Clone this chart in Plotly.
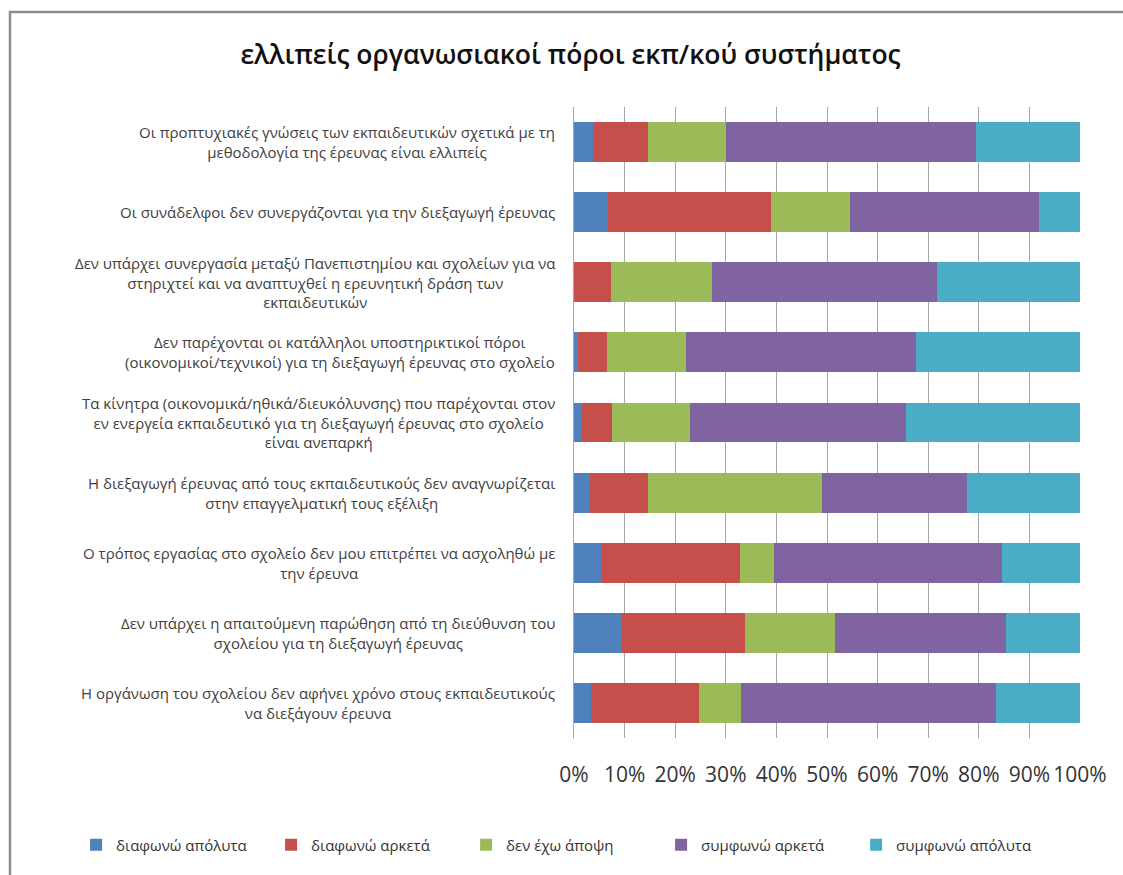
import plotly.graph_objects as go

# Survey statements (top to bottom)
statements = [
    "Οι προπτυχιακές γνώσεις των εκπαιδευτικών σχετικά με τη<br>μεθοδολογία της έρευνας είναι ελλιπείς",
    "Οι συνάδελφοι δεν συνεργάζονται για την διεξαγωγή έρευνας",
    "Δεν υπάρχει συνεργασία μεταξύ Πανεπιστημίου και σχολείων για να<br>στηριχτεί και να αναπτυχθεί η ερευνητική δράση των<br>εκπαιδευτικών",
    "Δεν παρέχονται οι κατάλληλοι υποστηρικτικοί πόροι<br>(οικονομικοί/τεχνικοί) για τη διεξαγωγή έρευνας στο σχολείο",
    "Τα κίνητρα (οικονομικά/ηθικά/διευκόλυνσης) που παρέχονται στον<br>εν ενεργεία εκπαιδευτικό για τη διεξαγωγή έρευνας στο σχολείο<br>είναι ανεπαρκή",
    "Η διεξαγωγή έρευνας από τους εκπαιδευτικούς δεν αναγνωρίζεται<br>στην επαγγελματική τους εξέλιξη",
    "Ο τρόπος εργασίας στο σχολείο δεν μου επιτρέπει να ασχοληθώ με<br>την έρευνα",
    "Δεν υπάρχει η απαιτούμενη παρώθηση από τη διεύθυνση του<br>σχολείου για τη διεξαγωγή έρευνας",
    "Η οργάνωση του σχολείου δεν αφήνει χρόνο στους εκπαιδευτικούς<br>να διεξάγουν έρευνα",
]

# Response shares (%) per statement
disagree_fully = [3.7, 6.8, 0.0, 0.7, 1.5, 3.1, 5.3, 9.5, 3.3]
disagree_much = [11.0, 32.1, 7.3, 5.8, 6.0, 11.5, 27.5, 24.2, 21.5]
no_opinion = [15.3, 15.7, 19.9, 15.6, 15.4, 34.4, 6.8, 17.8, 8.3]
agree_much = [49.4, 37.2, 44.6, 45.5, 42.7, 28.6, 45.0, 33.9, 50.2]
agree_fully = [20.6, 8.2, 28.2, 32.4, 34.4, 22.4, 15.4, 14.6, 16.7]

series_names = ["διαφωνώ απόλυτα", "διαφωνώ αρκετά", "δεν έχω άποψη",
                "συμφωνώ αρκετά", "συμφωνώ απόλυτα"]
series_values = [disagree_fully, disagree_much, no_opinion, agree_much, agree_fully]
colors = ["#4F81BD", "#C64F4C", "#9BBB59", "#8064A2", "#4BACC6"]

ids = [f"s{i}" for i in range(len(statements))]

fig = go.Figure()
for name, vals, col in zip(series_names, series_values, colors):
    fig.add_trace(go.Bar(
        y=ids, x=vals, name=name, orientation="h",
        marker=dict(color=col, line=dict(width=0)),
    ))

# Wrapped, centred statement labels to the left of the bars
for sid, text in zip(ids, statements):
    fig.add_annotation(
        x=-0.034, xref="paper", y=sid, yref="y",
        text=text, showarrow=False, xanchor="right", yanchor="middle",
        align="center", font=dict(family="Open Sans", size=15, color="#404040"),
    )

# Chart frame
fig.add_shape(type="rect", xref="paper", yref="paper",
              x0=-1.1146, x1=1.2, y0=-0.3, y1=1.1506,
              line=dict(color="#8c8c8c", width=2.5), fillcolor="rgba(0,0,0,0)",
              layer="below")

fig.update_layout(
    barmode="stack", barnorm="percent", bargap=0.43,
    width=1123, height=875,
    margin=dict(l=574, r=43, t=107, b=137),
    paper_bgcolor="white", plot_bgcolor="white",
    title=dict(text="ελλιπείς οργανωσιακοί πόροι εκπ/κού συστήματος",
               x=0.508, xref="container", xanchor="center",
               y=1 - 55 / 875, yref="container", yanchor="middle",
               font=dict(family="Open Sans", size=26.5, color="#111111", weight=600)),
    xaxis=dict(range=[0, 100], dtick=10, ticksuffix="%",
               showgrid=True, gridcolor="#a6a6a6", gridwidth=1,
               zeroline=False, showline=False, ticks="",
               ticklabelstandoff=22,
               tickfont=dict(family="Open Sans", size=21, color="#333333"),
               fixedrange=True),
    yaxis=dict(categoryorder="array", categoryarray=ids, autorange="reversed",
               showticklabels=False, showgrid=False, zeroline=False,
               showline=True, linecolor="#a6a6a6", linewidth=1, ticks=""),
    legend=dict(orientation="h", x=-0.984, xanchor="left",
                y=(738 - 845) / 631, yanchor="middle",
                font=dict(family="Open Sans", size=15, color="#333333"),
                entrywidth=150, entrywidthmode="pixels",
                traceorder="normal", itemwidth=30),
    showlegend=True,
)

fig.write_html("out.html")
